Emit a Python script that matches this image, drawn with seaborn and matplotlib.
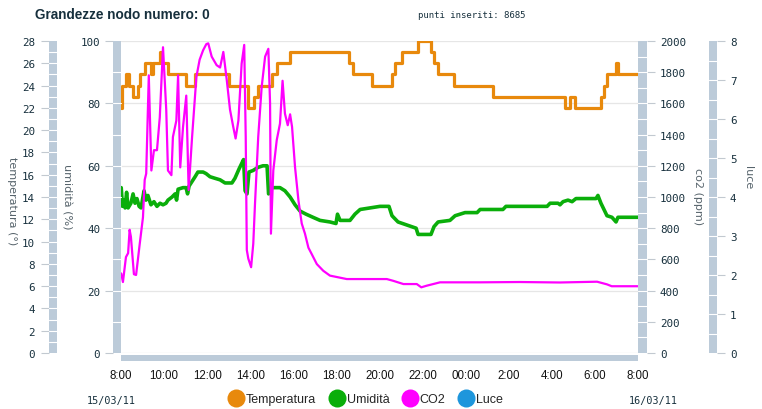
import numpy as np
import pandas as pd
import seaborn as sns
import matplotlib
matplotlib.use("Agg")
import matplotlib.pyplot as plt
from matplotlib.patches import Rectangle
from matplotlib.lines import Line2D
from matplotlib.transforms import blended_transform_factory as blend

# ---------------- data (hours after 15/03/11 8:00) ----------------
temp_hours = [0.00, 0.03, 0.23, 0.39, 0.56, 0.79, 0.88, 1.11, 1.39, 1.49, 1.81, 1.88,
              2.18, 3.02, 3.44, 5.01, 5.90, 6.17, 6.36, 7.01, 7.24, 7.85, 10.58, 10.77,
              11.65, 12.58, 12.72, 13.05, 13.79, 14.39, 14.53, 14.72, 15.46, 17.27,
              20.61, 20.84, 21.08, 22.28, 22.42, 22.56, 22.98, 23.05, 24.00]
temp_values = [22, 24, 25, 24, 23, 24, 25, 26, 25, 26, 27, 26,
               25, 24, 25, 24, 22, 23, 24, 25, 26, 27, 26, 25,
               24, 25, 26, 27, 28, 27, 26, 25, 24, 23,
               22, 23, 22, 23, 24, 25, 26, 25, 25]

hum_hours = [0.01, 0.07, 0.14, 0.19, 0.26, 0.33, 0.46, 0.56, 0.65, 0.74, 0.84, 0.93,
             1.07, 1.16, 1.25, 1.39, 1.53, 1.67, 1.81, 1.95, 2.09, 2.18, 2.37, 2.51,
             2.58, 2.65, 2.88, 3.02, 3.09, 3.16, 3.30, 3.44, 3.57, 3.81, 3.95, 4.13,
             4.36, 4.60, 4.83, 5.15, 5.29, 5.48, 5.62, 5.69, 5.76, 5.85, 5.94, 6.13,
             6.36, 6.59, 6.78, 6.85, 7.01, 7.38, 7.61, 7.85, 8.08, 8.31, 8.59, 8.91,
             9.24, 9.70, 9.98, 10.05, 10.17, 10.63, 10.86, 11.10, 11.56, 12.02, 12.44,
             12.58, 12.86, 13.28, 13.70, 13.79, 14.39, 14.53, 14.72, 15.27, 15.51,
             15.97, 16.53, 16.67, 17.73, 17.87, 19.78, 19.92, 20.29, 20.38, 20.52,
             20.75, 20.94, 21.12, 22.05, 22.14, 22.28, 22.42, 22.56, 22.79, 22.98,
             23.07, 24.00]
hum_values = [53, 47, 49, 46.5, 51.5, 46.5, 48, 51, 48, 49.5, 47, 46.5,
              52, 49, 50.5, 47.5, 48.5, 47, 48, 47.5, 48, 49, 50, 51,
              49, 52.5, 53, 53, 51, 53.5, 55, 56.5, 58, 58, 57.5, 56.5,
              56, 55.5, 54.5, 54.5, 56, 59, 61, 62, 52, 51, 58, 58.5,
              59.5, 60, 60, 51, 53, 53, 52, 50, 47.5, 45.5, 44.5, 43.5,
              42.5, 42, 41.5, 44.5, 42.5, 42.5, 44.5, 46, 46.5, 47, 47,
              44, 42, 41, 40, 38, 38, 40.5, 42, 42.5, 44,
              45, 45, 46, 46, 47, 47, 48, 48, 47.5, 48.5,
              49, 48.5, 49.5, 49.5, 50.5, 48, 46, 44, 43.5, 42,
              43.5, 43.5]

co2_hours = [0.01, 0.09, 0.23, 0.33, 0.40, 0.46, 0.60, 0.70, 0.87, 1.02, 1.10, 1.17,
             1.29, 1.41, 1.53, 1.67, 1.80, 1.95, 2.10, 2.18, 2.34, 2.41, 2.57, 2.65,
             2.75, 2.88, 3.03, 3.14, 3.30, 3.50, 3.65, 3.81, 3.96, 4.05, 4.21, 4.44,
             4.60, 4.75, 4.91, 5.06, 5.21, 5.32, 5.45, 5.60, 5.72, 5.79, 5.84, 5.91,
             6.04, 6.14, 6.22, 6.37, 6.53, 6.69, 6.84, 6.92, 6.96, 7.07, 7.23, 7.38,
             7.50, 7.61, 7.74, 7.85, 7.94, 8.08, 8.24, 8.39, 8.54, 8.70, 8.85, 9.09,
             9.39, 9.70, 10.48, 11.41, 12.34, 12.63, 13.11, 13.73, 13.94, 14.18,
             14.81, 16.67, 18.52, 20.38, 22.10, 22.56, 22.78, 24.00]
co2_values = [510, 455, 615, 640, 790, 745, 505, 500, 700, 870, 1110, 1150,
              1780, 1170, 1300, 1300, 1510, 1960, 1560, 1170, 1140, 1385, 1490, 1780,
              1190, 1450, 1650, 1045, 1385, 1770, 1880, 1940, 1980, 1985, 1900, 1845,
              1830, 1930, 1750, 1560, 1450, 1375, 1490, 1855, 1975, 1385, 660, 605,
              550, 700, 955, 1385, 1705, 1900, 1950, 1600, 765, 1170, 1365, 1470,
              1745, 1535, 1460, 1530, 1450, 1190, 975, 830, 765, 675, 635, 570,
              527, 496, 474, 474, 474, 463, 442, 442, 421, 431,
              453, 453, 455, 452, 457, 440, 428, 428]

luce_hours = []
luce_values = []

x_ticks = [0, 2, 4, 6, 8, 10, 12, 14, 16, 18, 20, 22, 24]
x_tick_labels = ["8:00", "10:00", "12:00", "14:00", "16:00", "18:00", "20:00",
                 "22:00", "00:00", "2:00", "4:00", "6:00", "8:00"]
series_names = ["Temperatura", "Umidità", "CO2", "Luce"]
series_colors = ["#e8890c", "#0aae0a", "#ff00ff", "#1e96dc"]

# ---------------- figure ----------------
sns.set_theme(style="white")
plt.rcParams["font.family"] = ["DejaVu Sans"]

W, H = 762, 410
fig = plt.figure(figsize=(W / 100, H / 100), dpi=100)


def pt(p):
    return p * 0.72


ax = fig.add_axes([121 / W, (H - 354) / H, 517 / W, 312 / H])
ax_t = ax.twinx()
ax_c = ax.twinx()
ax_l = ax.twinx()

sns.lineplot(x=hum_hours, y=hum_values, ax=ax, color=series_colors[1], lw=2.6,
             errorbar=None, legend=False)
sns.lineplot(x=temp_hours, y=temp_values, ax=ax_t, color=series_colors[0], lw=2.3,
             errorbar=None, legend=False, drawstyle="steps-post")
sns.lineplot(x=co2_hours, y=co2_values, ax=ax_c, color=series_colors[2], lw=1.6,
             errorbar=None, legend=False)
if luce_hours:
    sns.lineplot(x=luce_hours, y=luce_values, ax=ax_l, color=series_colors[3], lw=1.6,
                 errorbar=None, legend=False)

ax.set_xlim(0, 24)
ax.set_ylim(0, 100)
ax_t.set_ylim(0, 28)
ax_c.set_ylim(0, 2000)
ax_l.set_ylim(0, 8)

tick_c = "#c2c9d0"
lab_c = "#17303d"
mono = "DejaVu Sans Mono"

for a in (ax, ax_t, ax_c, ax_l):
    for s in a.spines.values():
        s.set_visible(False)
    a.set_xlabel("")
    a.set_ylabel("")

# humidity (left, inner)
ax.set_yticks(range(0, 101, 20))
ax.spines["left"].set_position(("outward", pt(8)))
ax.tick_params(axis="y", left=True, right=False, length=pt(8), width=0.8, color=tick_c,
               pad=pt(5), labelsize=7.8, labelcolor=lab_c, labelfontfamily=mono)
ax.grid(axis="y", color="#e6e6e6", lw=0.9)
ax.grid(axis="x", visible=False)

# temperature (left, outer)
ax_t.yaxis.tick_left()
ax_t.spines["left"].set_position(("outward", pt(72)))
ax_t.set_yticks(range(0, 29, 2))
ax_t.tick_params(axis="y", left=True, right=False, length=pt(8), width=0.8, color=tick_c,
                 pad=pt(6), labelsize=7.8, labelcolor=lab_c, labelfontfamily=mono)

# co2 (right, inner)
ax_c.spines["right"].set_position(("outward", pt(9)))
ax_c.set_yticks(range(0, 2001, 200))
ax_c.tick_params(axis="y", right=True, left=False, length=pt(8), width=0.8, color=tick_c,
                 pad=pt(5), labelsize=7.8, labelcolor=lab_c, labelfontfamily=mono)

# luce (right, outer)
ax_l.spines["right"].set_position(("outward", pt(79)))
ax_l.set_yticks(range(0, 9, 1))
ax_l.tick_params(axis="y", right=True, left=False, length=pt(8), width=0.8, color=tick_c,
                 pad=pt(5), labelsize=7.8, labelcolor=lab_c, labelfontfamily=mono)

# x axis
ax.set_xticks(x_ticks, x_tick_labels)
ax.tick_params(axis="x", bottom=True, length=0, pad=pt(16), labelsize=8.3,
               labelcolor="#111111", labelfontfamily="Liberation Sans")

# segmented axis bars
bar_c = "#bccbd9"


def ybar(axis, x0, x1, step, vmax):
    tr = blend(fig.transFigure, axis.transAxes)
    fig.add_artist(Rectangle((x0 / W, 0), (x1 - x0) / W, 1, transform=tr,
                             facecolor=bar_c, edgecolor="none"))
    trd = blend(fig.transFigure, axis.transData)
    for v in np.arange(step, vmax - step / 2, step):
        fig.add_artist(Line2D([x0 / W, x1 / W], [v, v], transform=trd,
                              color="white", lw=0.8))


ybar(ax_t, 49, 57, 1, 28)
ybar(ax, 113, 121, 10, 100)
ybar(ax_c, 638, 647, 100, 2000)
ybar(ax_l, 709, 717, 0.5, 8)
fig.add_artist(Rectangle((0, (H - 362) / H), 1, 6 / H,
                         transform=blend(ax.transAxes, fig.transFigure),
                         facecolor=bar_c, edgecolor="none"))

# axis titles
lab_gray = "#56636b"
fig.text(12 / W, 1 - 201 / H, "temperatura (°)", rotation=270, ha="center", va="center",
         size=8, color=lab_gray)
fig.text(67 / W, 1 - 197 / H, "umidità (%)", rotation=270, ha="center", va="center",
         size=8, color=lab_gray)
fig.text(698 / W, 1 - 197 / H, "co2 (ppm)", rotation=270, ha="center", va="center",
         size=8, color=lab_gray)
fig.text(748 / W, 1 - 178 / H, "luce", rotation=270, ha="center", va="center",
         size=8, color=lab_gray)

# header
fig.text(35 / W, 1 - 15 / H, "Grandezze nodo numero: 0", ha="left", va="center",
         size=9.8, weight="bold", color=lab_c, family="Liberation Sans")
fig.text(418 / W, 1 - 15 / H, "punti inseriti: 8685", ha="left", va="center",
         size=6.5, color=lab_c, family=mono)

# dates
fig.text(111 / W, 1 - 401 / H, "15/03/11", ha="center", va="center", size=7.3,
         color=lab_c, family=mono)
fig.text(653 / W, 1 - 401 / H, "16/03/11", ha="center", va="center", size=7.3,
         color=lab_c, family=mono)

# legend
handles = [Line2D([], [], ls="", marker="o", ms=13, color=c, markeredgewidth=0)
           for c in series_colors]
fig.legend(handles, series_names, loc="center", bbox_to_anchor=(365 / W, 1 - 400 / H),
           ncol=4, frameon=False, handletextpad=0.1, columnspacing=0.95,
           handlelength=1.4, borderaxespad=0, borderpad=0,
           prop={"family": "Liberation Sans", "size": 9})

fig.savefig("out.png", dpi=100)
